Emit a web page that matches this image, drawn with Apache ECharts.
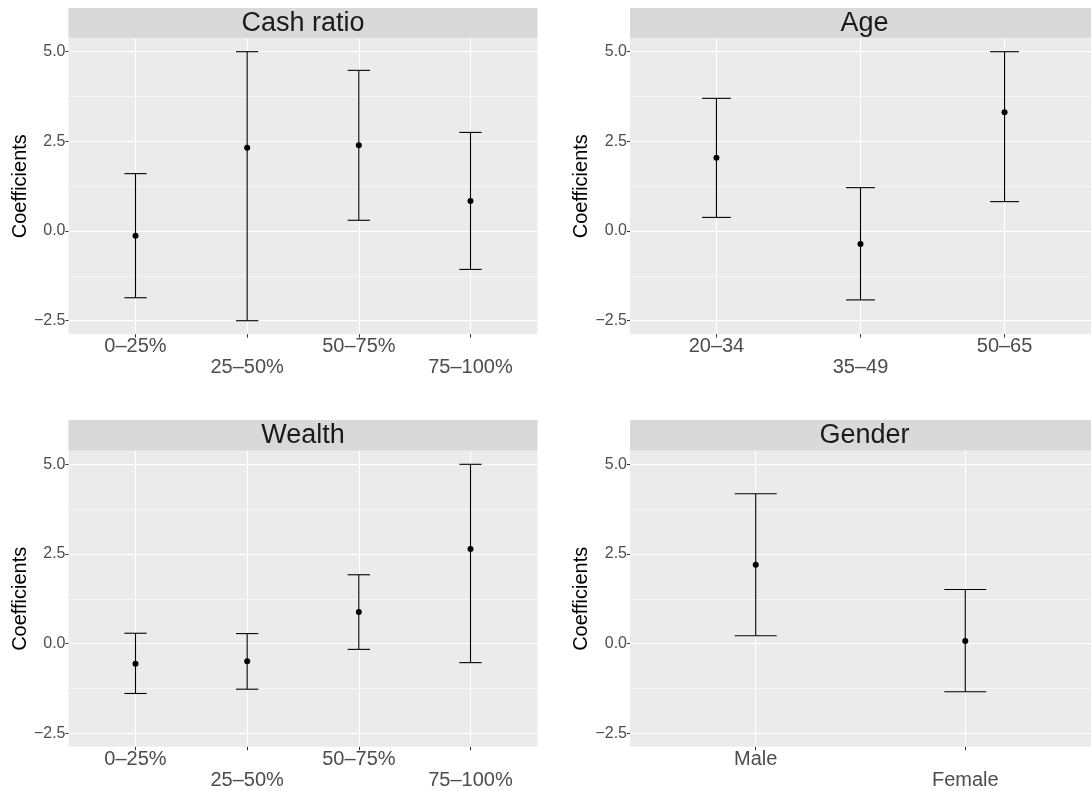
<!DOCTYPE html>
<html><head><meta charset="utf-8">
<script src="https://cdn.jsdelivr.net/npm/echarts@6/dist/echarts.min.js"></script>
<style>html,body{margin:0;padding:0;background:#fff}#c{width:1091px;height:791px}</style>
</head><body><div id="c"></div>
<script>
const cashCats = ['0–25%', '25–50%', '50–75%', '75–100%'];
const cashEst = [-0.13, 2.32, 2.39, 0.84];
const cashLow = [-1.86, -2.50, 0.30, -1.07];
const cashHigh = [1.60, 5.00, 4.48, 2.75];

const ageCats = ['20–34', '35–49', '50–65'];
const ageEst = [2.04, -0.36, 3.31];
const ageLow = [0.38, -1.92, 0.82];
const ageHigh = [3.70, 1.21, 5.00];

const wealthCats = ['0–25%', '25–50%', '50–75%', '75–100%'];
const wealthEst = [-0.56, -0.49, 0.88, 2.64];
const wealthLow = [-1.39, -1.27, -0.16, -0.53];
const wealthHigh = [0.29, 0.28, 1.92, 5.00];

const genderCats = ['Male', 'Female'];
const genderEst = [2.20, 0.07];
const genderLow = [0.22, -1.34];
const genderHigh = [4.18, 1.51];

const yTicks = [-2.5, 0, 2.5, 5];
const yMinorTicks = [-1.25, 1.25, 3.75];
const panelTitles = ['Cash ratio', 'Age', 'Wealth', 'Gender'];
const yTitle = 'Coefficients';

const FONT = '"Liberation Sans", Arial, Helvetica, sans-serif';
const panels = [
  {title: panelTitles[0], cats: cashCats, est: cashEst, low: cashLow, high: cashHigh, left: 68.5, top: 38.25, stripTop: 8},
  {title: panelTitles[1], cats: ageCats, est: ageEst, low: ageLow, high: ageHigh, left: 630, top: 38.25, stripTop: 8},
  {title: panelTitles[2], cats: wealthCats, est: wealthEst, low: wealthLow, high: wealthHigh, left: 68.5, top: 450.85, stripTop: 420},
  {title: panelTitles[3], cats: genderCats, est: genderEst, low: genderLow, high: genderHigh, left: 630, top: 450.85, stripTop: 420}
];
const PW = 469, PH = 295.9;
const YMIN = -2.875, YMAX = 5.375;

const grid = [], xAxis = [], yAxis = [], series = [], graphic = [];
panels.forEach((p, i) => {
  const n = p.cats.length;
  const idx = p.cats.map((c, k) => k + 1);
  grid.push({left: p.left, top: p.top, width: PW, height: PH, show: true,
    backgroundColor: '#EBEBEB', borderWidth: 0, containLabel: false});
  xAxis.push({
    gridIndex: i, type: 'value', min: 0.4, max: n + 0.6, position: 'bottom',
    axisLine: {show: false, onZero: false},
    axisTick: {show: true, customValues: idx, length: 3.5, lineStyle: {color: '#333333', width: 1}},
    axisLabel: {customValues: idx, color: '#4D4D4D', fontSize: 20, lineHeight: 21, margin: 2,
      fontFamily: FONT,
      formatter: (v) => { const k = Math.round(v) - 1; const s = p.cats[k] || ''; return (k % 2 === 1) ? '\n' + s : s; }},
    splitLine: {show: true, lineStyle: {color: '#FFFFFF', width: 1.1}}
  });
  yAxis.push({
    gridIndex: i, type: 'value', min: YMIN, max: YMAX, position: 'left',
    axisLine: {show: false, onZero: false},
    axisTick: {show: true, customValues: yTicks, length: 3, lineStyle: {color: '#333333', width: 1}},
    axisLabel: {customValues: yTicks, color: '#4D4D4D', fontSize: 16, margin: 3, fontFamily: FONT,
      formatter: (v) => (v < 0 ? '\u2212' : '') + Math.abs(v).toFixed(1)},
    splitLine: {show: true, lineStyle: {color: '#FFFFFF', width: 1.1}},
    name: yTitle, nameLocation: 'middle', nameGap: 38,
    nameTextStyle: {fontSize: 20, color: '#000000', fontFamily: FONT}
  });
  yAxis.push({
    gridIndex: i, type: 'value', min: YMIN, max: YMAX, position: 'left', offset: 0,
    axisLine: {show: false, onZero: false}, axisLabel: {show: false},
    axisTick: {show: false, customValues: yMinorTicks},
    splitLine: {show: true, lineStyle: {color: '#FFFFFF', width: 0.55}}
  });
  series.push({
    type: 'custom', xAxisIndex: i, yAxisIndex: 2 * i, clip: false, z: 3,
    data: idx.map((x, k) => [x, p.low[k], p.high[k]]),
    encode: {x: 0, y: [1, 2]},
    renderItem: (params, api) => {
      const x = api.value(0), lo = api.value(1), hi = api.value(2);
      const a = api.coord([x, lo]), b = api.coord([x, hi]);
      const hw = api.size([0.2, 0])[0] / 2;
      const st = {stroke: '#000000', lineWidth: 1.1, fill: null};
      return {type: 'group', children: [
        {type: 'line', shape: {x1: a[0], y1: a[1], x2: b[0], y2: b[1]}, style: st},
        {type: 'line', shape: {x1: a[0] - hw, y1: b[1], x2: a[0] + hw, y2: b[1]}, style: st},
        {type: 'line', shape: {x1: a[0] - hw, y1: a[1], x2: a[0] + hw, y2: a[1]}, style: st}
      ]};
    }
  });
  series.push({
    type: 'scatter', xAxisIndex: i, yAxisIndex: 2 * i, z: 4,
    symbol: 'circle', symbolSize: 6, itemStyle: {color: '#000000', opacity: 1},
    data: idx.map((x, k) => [x, p.est[k]])
  });
  graphic.push({type: 'rect', silent: true, z: -1,
    shape: {x: p.left, y: p.stripTop, width: PW, height: p.top - p.stripTop},
    style: {fill: '#D9D9D9'}});
  graphic.push({type: 'text', silent: true,
    x: p.left + PW / 2, y: (p.stripTop + p.top) / 2 + 0.5,
    style: {text: p.title, fontSize: 27, fontFamily: FONT, fill: '#1A1A1A', align: 'center', verticalAlign: 'middle'}});
});

const chart = echarts.init(document.getElementById('c'), null, {renderer: 'canvas'});
chart.setOption({
  animation: false,
  backgroundColor: '#FFFFFF',
  textStyle: {fontFamily: FONT},
  grid, xAxis, yAxis, series, graphic
});
</script>
</body></html>
